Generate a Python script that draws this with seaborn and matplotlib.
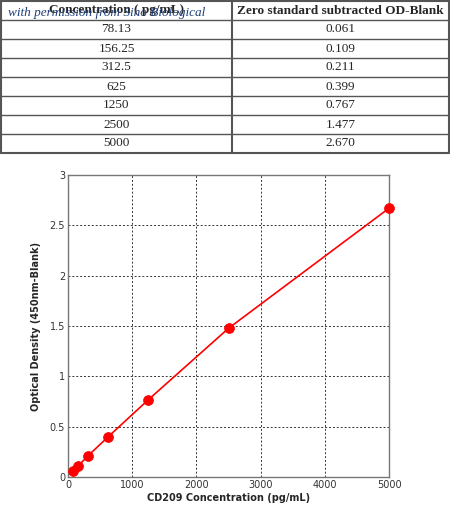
import numpy as np
import pandas as pd
import matplotlib
matplotlib.use('Agg')
import matplotlib.pyplot as plt
import seaborn as sns

conc_labels = ['78.13', '156.25', '312.5', '625', '1250', '2500', '5000']
conc = [78.13, 156.25, 312.5, 625, 1250, 2500, 5000]
od_labels = ['0.061', '0.109', '0.211', '0.399', '0.767', '1.477', '2.670']
od = [0.061, 0.109, 0.211, 0.399, 0.767, 1.477, 2.670]
headers = ['Concentration ( pg/mL)', 'Zero standard subtracted OD-Blank']

sns.set_style('white')
fig = plt.figure(figsize=(4.5, 5.27), dpi=100)
W, H = 450, 527

# table drawn with plain lines and text in figure pixel coords
tax = fig.add_axes([0, 0, 1, 1])
tax.set_xlim(0, W)
tax.set_ylim(H, 0)
tax.axis('off')
row_h = 19
n_rows = len(conc_labels) + 1
top, bot = 1, 1 + n_rows * row_h
left, mid, right = 1, 232, 449
for i in range(n_rows + 1):
    y = top + i * row_h
    tax.plot([left, right], [y, y], color='#555555', lw=1.5 if i in (0, n_rows) else 1)
for x in (left, mid, right):
    tax.plot([x, x], [top, bot], color='#555555', lw=1.5)
serif = ['Liberation Serif', 'DejaVu Serif']
tax.text((left + mid) / 2, top + row_h / 2, headers[0], ha='center', va='center',
         fontsize=9.5, fontweight='bold', family=serif)
tax.text((mid + right) / 2, top + row_h / 2, headers[1], ha='center', va='center',
         fontsize=9.5, fontweight='bold', family=serif)
for i, (c, o) in enumerate(zip(conc_labels, od_labels)):
    y = top + (i + 1.5) * row_h
    tax.text((left + mid) / 2, y, c, ha='center', va='center', fontsize=9.5, family=serif)
    tax.text((mid + right) / 2, y, o, ha='center', va='center', fontsize=9.5, family=serif)
tax.text(8, 13, 'with permission from Sino Biological', ha='left', va='center',
         fontsize=9.5, style='italic', color='#1f3f7a', family=serif)

# chart
ax = fig.add_axes([68 / W, 1 - 477 / H, (389 - 68) / W, (477 - 175) / H])
df = pd.DataFrame({'conc': conc, 'od': od})
sns.lineplot(data=df, x='conc', y='od', color='red', lw=1.2, ax=ax)
sns.scatterplot(data=df, x='conc', y='od', color='red', s=50, marker='o',
                edgecolor='red', ax=ax, zorder=3, clip_on=False)
ax.set_xlim(0, 5000)
ax.set_ylim(0, 3)
ax.set_xticks([0, 1000, 2000, 3000, 4000, 5000])
ax.set_yticks([0, 0.5, 1, 1.5, 2, 2.5, 3])
ax.set_yticklabels(['0', '0.5', '1', '1.5', '2', '2.5', '3'])
ax.tick_params(labelsize=7, length=0, pad=2, colors='#333333')
ax.grid(True, color='#333333', ls=(0, (2, 2)), lw=0.7)
for s in ax.spines.values():
    s.set_color('#777777')
    s.set_linewidth(1)
ax.set_xlabel('CD209 Concentration (pg/mL)', fontsize=7, fontweight='bold', labelpad=2)
ax.set_ylabel('Optical Density (450nm-Blank)', fontsize=7, fontweight='bold', labelpad=6)

fig.savefig('out.png', dpi=100)
